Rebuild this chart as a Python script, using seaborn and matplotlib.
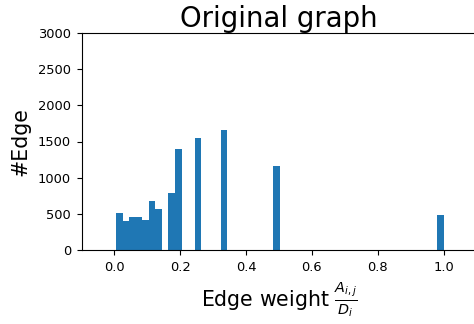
import seaborn as sns
import matplotlib.pyplot as plt
import numpy as np

# histogram: one representative weight per filled bin
weight_values = [0.01, 0.03, 0.05, 0.07, 0.09, 0.11, 0.13, 0.17, 0.20, 0.25, 1 / 3, 0.50, 1.00]
edge_counts = [511, 400, 456, 456, 414, 677, 566, 787, 1394, 1546, 1656, 1160, 483]
n_bins = 50
bin_range = (0.005, 1.0)
y_ticks = [0, 500, 1000, 1500, 2000, 2500, 3000]
x_ticks = [0.0, 0.2, 0.4, 0.6, 0.8, 1.0]

sns.set_style("ticks")
plt.rcParams["font.family"] = ["DejaVu Sans"]
plt.rcParams["mathtext.fontset"] = "dejavusans"
for key in ["text.color", "axes.labelcolor", "xtick.color", "ytick.color", "axes.edgecolor"]:
    plt.rcParams[key] = "black"

fig = plt.figure(figsize=(4.74, 3.24), dpi=100)
ax = fig.add_axes([81.5 / 474, 74 / 324, 395 / 474, 217 / 324])

sns.histplot(
    x=weight_values,
    weights=edge_counts,
    bins=n_bins,
    binrange=bin_range,
    color="#1f77b4",
    alpha=1,
    linewidth=0,
    ax=ax,
)

ax.set_xlim(-0.1, 1.1)
ax.set_ylim(0, 3000)
ax.set_xticks(x_ticks)
ax.set_yticks(y_ticks)
ax.tick_params(labelsize=9.4, length=3.6, width=0.8, pad=4)
for side in ["top", "right", "left", "bottom"]:
    ax.spines[side].set_visible(True)
    ax.spines[side].set_linewidth(0.8)

ax.set_title("Original graph", fontsize=19.9, pad=4)
ax.set_xlabel(r"Edge weight $\frac{A_{i,j}}{D_i}$", fontsize=14.8, labelpad=4)
ax.set_ylabel("#Edge", fontsize=14.8, labelpad=5)

plt.savefig("out.png", dpi=100)
plt.close()
